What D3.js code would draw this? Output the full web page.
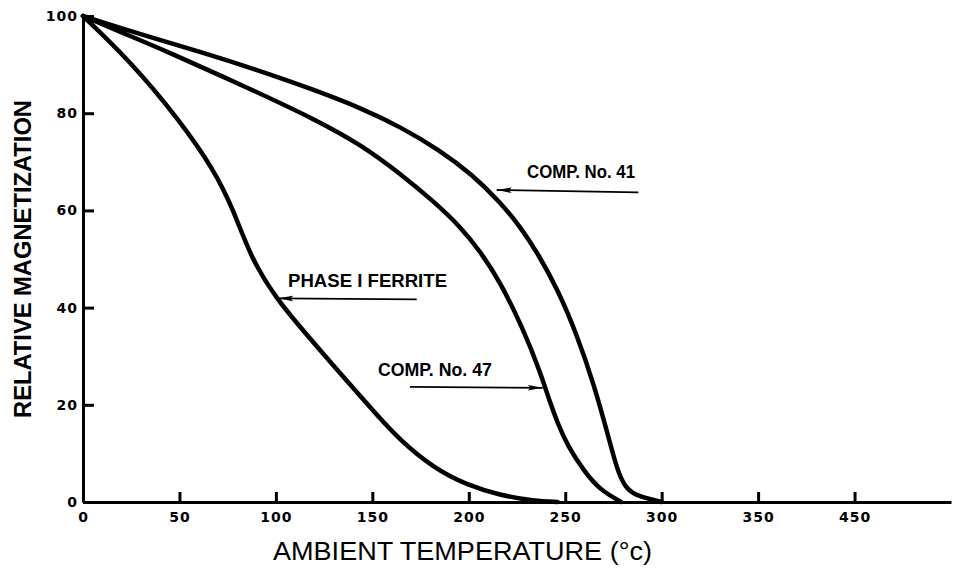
<!DOCTYPE html>
<html>
<head>
<meta charset="utf-8">
<script src="https://cdn.jsdelivr.net/npm/d3@7"></script>
<style>
  body { margin: 0; background: #fff; }
  svg { display: block; }
</style>
</head>
<body>
<div id="chart"></div>
<script>
const width = 956, height = 574;
const margin = {top: 16, right: 5, bottom: 72, left: 83};

// axis ticks (the last tick sits at 400 but is lettered 450 on the original)
const xTicks = [0, 50, 100, 150, 200, 250, 300, 350, 400];
const xTickLabels = ["0", "50", "100", "150", "200", "250", "300", "350", "450"];
const yTicks = [0, 20, 40, 60, 80, 100];

// curves: temperature (°C) and relative magnetization
const comp41Temp = [0, 30, 62, 88, 120, 145, 164, 185, 202, 216, 227, 236, 246, 256, 265, 272, 277, 281, 287, 300];
const comp41Mag  = [100, 96.2, 92.5, 89.2, 84.8, 80.9, 77.3, 72.4, 67.3, 61.8, 56.5, 51, 43.8, 34.5, 24, 14, 6.5, 3, 1.2, 0];

const comp47Temp = [0, 20, 42, 85, 120, 145, 164, 182, 196, 206, 216, 228, 237, 242, 246, 251, 260, 268, 279];
const comp47Mag  = [100, 96.6, 93, 85.3, 78.8, 73.3, 67.7, 61.8, 56.5, 51.5, 45.5, 35.8, 26.8, 20.6, 16.3, 11.7, 6.2, 2.5, 0];

const phase1Temp = [0, 24, 50, 68, 78, 87, 100, 116, 137, 151, 164, 182, 199, 216, 234, 246];
const phase1Mag  = [100, 90.9, 78.6, 68.3, 60.1, 50.3, 41.9, 34.4, 24.8, 18.5, 12.8, 6.9, 3.5, 1.4, 0.2, 0];

// annotations, in data units
const noteText  = ["COMP. No. 41", "PHASE I FERRITE", "COMP. No. 47"];
const noteT     = [230.2, 106.3, 152.9];
const noteV     = [66.7, 44.3, 26.0];
const noteWidth = [108, 159, 114];
const arrowFromT = [287.9, 173.0, 169.5];
const arrowFromV = [63.7, 41.7, 23.7];
const arrowToT   = [214.5, 101.2, 238.3];
const arrowToV   = [64.2, 41.9, 23.5];

let svg = d3.select("#chart")
            .append("svg")
            .attr("width", width)
            .attr("height", height)
            .attr("viewBox", [0, 0, width, height]);

let x = d3.scaleLinear()
          .domain([0, 450])
          .range([margin.left, width - margin.right]);

let y = d3.scaleLinear()
          .domain([0, 100])
          .range([height - margin.bottom, margin.top]);

// x axis, ticks pointing up into the plot
svg.append("g")
    .attr("transform", "translate(0," + y(0) + ")")
    .style("font-family", "'DejaVu Sans', sans-serif")
    .style("font-size", "14px")
    .style("font-weight", "bold")
    .call(d3.axisBottom(x)
            .tickValues(xTicks)
            .tickFormat((d, i) => xTickLabels[i])
            .tickSize(-10)
            .tickSizeOuter(0)
            .tickPadding(10))
    .call(g => g.select(".domain").attr("stroke-width", 3))
    .call(g => g.selectAll(".tick line").attr("stroke-width", 3))
    .call(g => g.selectAll(".tick text").attr("fill", "#000").attr("letter-spacing", "1px"));

// y axis, ticks pointing right
svg.append("g")
    .attr("transform", "translate(" + x(0) + ",0)")
    .style("font-family", "'DejaVu Sans', sans-serif")
    .style("font-size", "14px")
    .style("font-weight", "bold")
    .call(d3.axisLeft(y)
            .tickValues(yTicks)
            .tickSize(-11)
            .tickSizeOuter(0)
            .tickPadding(5))
    .call(g => g.select(".domain").attr("stroke-width", 3))
    .call(g => g.selectAll(".tick line").attr("stroke-width", 3))
    .call(g => g.selectAll(".tick text").attr("fill", "#000").attr("letter-spacing", "1px"));

// curves (hand-drawn originals, so a smoothing spline)
let line = d3.line()
             .x(d => x(d[0]))
             .y(d => y(d[1]))
             .curve(d3.curveBasis);

let series = [
  d3.zip(comp41Temp, comp41Mag),
  d3.zip(comp47Temp, comp47Mag),
  d3.zip(phase1Temp, phase1Mag)
];

svg.append("g")
    .selectAll("path")
    .data(series)
    .enter()
    .append("path")
    .attr("d", line)
    .attr("fill", "none")
    .attr("stroke", "#000")
    .attr("stroke-width", 4.5)
    .attr("stroke-linecap", "round")
    .attr("stroke-linejoin", "round");

// arrowhead
svg.append("defs")
    .append("marker")
    .attr("id", "head")
    .attr("viewBox", "0 -4 15 8")
    .attr("refX", 15)
    .attr("refY", 0)
    .attr("markerUnits", "userSpaceOnUse")
    .attr("markerWidth", 15)
    .attr("markerHeight", 8)
    .attr("orient", "auto")
    .append("path")
    .attr("d", "M0,-2.8L15,0L0,2.8L3,0Z")
    .attr("fill", "#000");

// annotation arrows and labels
let notes = svg.append("g");

notes.selectAll("line")
    .data(noteText)
    .enter()
    .append("line")
    .attr("x1", (d, i) => x(arrowFromT[i]))
    .attr("y1", (d, i) => y(arrowFromV[i]))
    .attr("x2", (d, i) => x(arrowToT[i]))
    .attr("y2", (d, i) => y(arrowToV[i]))
    .attr("stroke", "#000")
    .attr("stroke-width", 1.8)
    .attr("marker-end", "url(#head)");

notes.selectAll("text")
    .data(noteText)
    .enter()
    .append("text")
    .attr("x", (d, i) => x(noteT[i]))
    .attr("y", (d, i) => y(noteV[i]))
    .attr("textLength", (d, i) => noteWidth[i])
    .attr("lengthAdjust", "spacingAndGlyphs")
    .style("font-family", "'Liberation Sans', Arial, sans-serif")
    .style("font-size", "18px")
    .style("font-weight", "bold")
    .text(d => d);

// axis titles
svg.append("text")
    .attr("x", 273)
    .attr("y", 560)
    .attr("textLength", 379)
    .attr("lengthAdjust", "spacingAndGlyphs")
    .style("font-family", "'Liberation Sans', Arial, sans-serif")
    .style("font-size", "25px")
    .text("AMBIENT TEMPERATURE (°c)");

svg.append("text")
    .attr("transform", "translate(31,259) rotate(-90)")
    .attr("text-anchor", "middle")
    .attr("textLength", 318)
    .attr("lengthAdjust", "spacingAndGlyphs")
    .style("font-family", "'Liberation Sans', Arial, sans-serif")
    .style("font-size", "24px")
    .style("font-weight", "bold")
    .text("RELATIVE MAGNETIZATION");
</script>
</body>
</html>
